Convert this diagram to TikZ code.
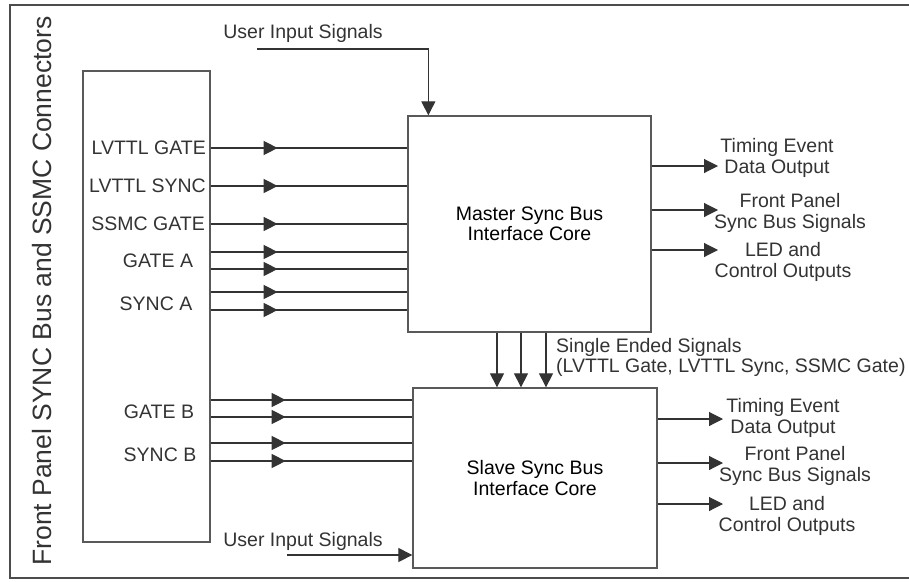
\documentclass[tikz,border=0pt]{standalone}
\usepackage{fontspec}
\setmainfont{Liberation Sans}
\usetikzlibrary{arrows.meta,calc,decorations.markings}

\tikzset{
  blk/.style={draw=black!65, line width=1.3pt, align=center, inner sep=0pt},
  sig/.style={draw=black!80, line width=1.1pt},
  tip/.style={-{Triangle[length=14pt,width=14pt]}},
  insig/.style={sig, postaction={decorate},
    decoration={markings, mark=at position #1 with {\arrow{Triangle[length=14pt,width=14pt]}}}},
  lbl/.style={text=black!80, align=center, inner sep=0pt}
}

\begin{document}
\begin{tikzpicture}[x=1pt, y=-1pt, font=\fontsize{19.5}{20.5}\selectfont]
    \useasboundingbox (0,0) rectangle (909,581);
    \clip (0,0) rectangle (909,581);
    \draw[black!70, line width=2pt] (10,5) rectangle (920,578);

    % blocks
    \node[blk, minimum width=127pt, minimum height=471pt] (conn) at (146.5,306.5) {};
    \node[blk, minimum width=243pt, minimum height=216pt] (master) at (529.5,224)
      {Master Sync Bus\\Interface Core};
    \node[blk, minimum width=244pt, minimum height=180pt] (slave) at (535,478)
      {Slave Sync Bus\\Interface Core};

    \node[lbl, rotate=90, font=\fontsize{26.5}{28}\selectfont] (panel) at (42,291)
      {Front Panel SYNC Bus and SSMC Connectors};

    % connector labels
    \node[lbl, anchor=east] (lgate) at (206,148) {LVTTL GATE};
    \node[lbl, anchor=east] (lsync) at (206,186) {LVTTL SYNC};
    \node[lbl, anchor=east] (sgate) at (205,224) {SSMC GATE};
    \node[lbl] (gatea) at (158,261) {GATE A};
    \node[lbl] (synca) at (156,304) {SYNC A};
    \node[lbl] (gateb) at (159,412) {GATE B};
    \node[lbl] (syncb) at (160,455) {SYNC B};

    % inputs
    \foreach \y in {148,186,224,252,269,292,310}
      \draw[insig=67pt] (conn.east |- 0,\y) -- (master.west |- 0,\y);
    \foreach \y in {400,417,443,461}
      \draw[insig=75pt] (conn.east |- 0,\y) -- (slave.west |- 0,\y);

    % user inputs
    \node[lbl] (uin1) at (303,33) {User Input Signals};
    \node[lbl] (uin2) at (303,541) {User Input Signals};
    \coordinate (u1) at (257,49);
    \coordinate (u2) at (287,555);
    \draw[sig,tip] (u1) -| ($(master.north west)+(21,0)$);
    \draw[sig,tip] (u2) -- (slave.west |- u2);

    % master to slave
    \foreach \x in {497,521,546}
      \draw[sig,tip] (master.south -| \x,0) -- (slave.north -| \x,0);
    \node[lbl, align=left, anchor=north west] (single) at (556,338)
      {Single Ended Signals\\(LVTTL Gate, LVTTL Sync, SSMC Gate)};

    % outputs
    \node[lbl] (mo1) at (777,158) {Timing Event\\Data Output};
    \node[lbl] (mo2) at (790,213) {Front Panel\\Sync Bus Signals};
    \node[lbl] (mo3) at (783,262) {LED and\\Control Outputs};
    \node[lbl] (so1) at (783,418) {Timing Event\\Data Output};
    \node[lbl] (so2) at (795,466) {Front Panel\\Sync Bus Signals};
    \node[lbl] (so3) at (787,516) {LED and\\Control Outputs};

    \foreach \y in {166,210,250}
      \draw[sig,tip] (master.east |- 0,\y) -- (718,\y);
    \foreach \y in {419,463,504}
      \draw[sig,tip] (slave.east |- 0,\y) -- (723,\y);
\end{tikzpicture}
\end{document}
